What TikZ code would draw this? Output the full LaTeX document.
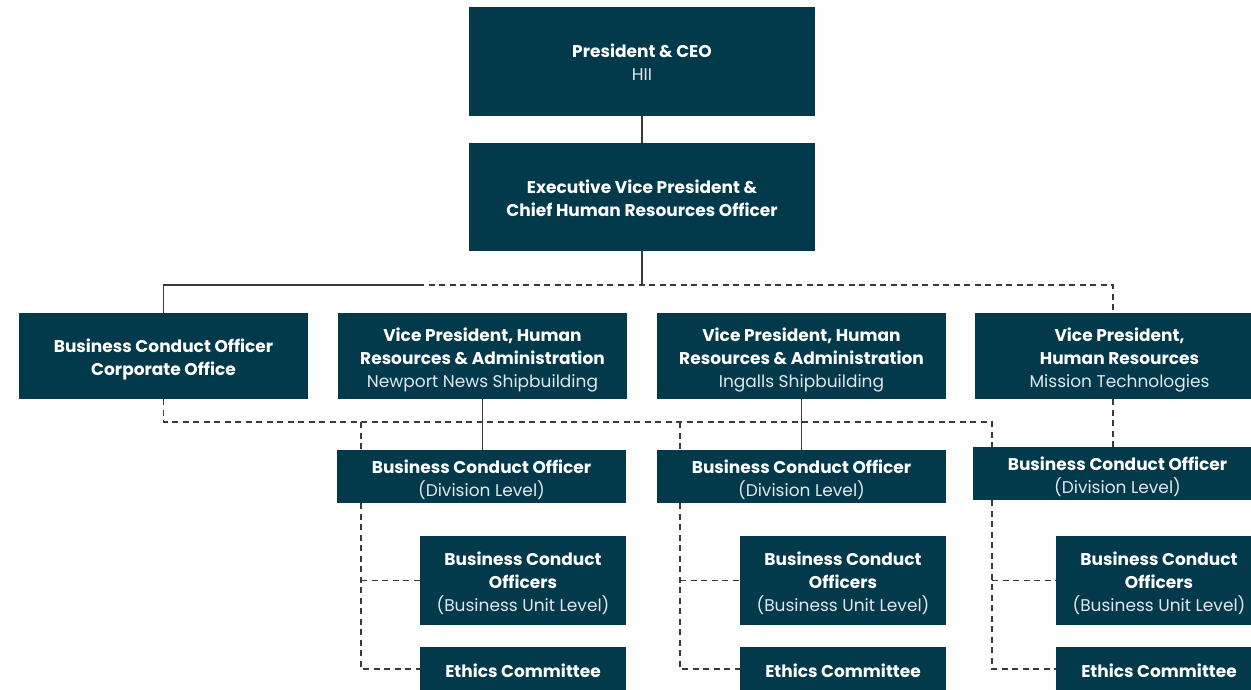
\documentclass[tikz,border=0pt]{standalone}
\usepackage{fontspec}
\setmainfont{Poppins}
\definecolor{boxc}{HTML}{023A4B}
\definecolor{linec}{HTML}{3A3A3A}
\definecolor{subc}{HTML}{E2E8EA}
\tikzset{
  orgbox/.style={fill=boxc, draw=none, inner sep=0pt},
  orgtext/.style={text=white, align=center, inner sep=0pt,
    font=\fontsize{17}{23}\selectfont\bfseries},
  solidline/.style={draw=linec, line width=1.4pt},
  dashline/.style={draw=linec, line width=1.4pt, dash pattern=on 6pt off 4.5pt},
}
\newcommand{\sub}[1]{{\mdseries\color{subc}#1}}
% name, x, y, width, height, text shift, text
\newcommand{\onode}[7]{%
  \node[orgbox, minimum width=#4pt, minimum height=#5pt] (#1) at (#2,#3) {};
  \node[orgtext] (#1-t) at ([yshift=-#6pt]#1.center) {#7};}
\begin{document}
\begin{tikzpicture}[x=1pt,y=-1pt]
\useasboundingbox (0,0) rectangle (1251,689);
% level 1 and 2
\onode{ceo}{642}{61.5}{346}{109}{1}{President \& CEO\\ \sub{HII}}
\onode{evp}{642}{197}{346}{108}{1}{Executive Vice President \&\\ Chief Human Resources Officer}
% level 3
\onode{bcoc}{163.5}{356}{289}{86}{3}{Business Conduct Officer\\ Corporate Office}
\onode{vpnn}{482.5}{356}{289}{86}{4}{Vice President, Human\\ Resources \& Administration\\ \sub{Newport News Shipbuilding}}
\onode{vpig}{801.5}{356}{289}{86}{4}{Vice President, Human\\ Resources \& Administration\\ \sub{Ingalls Shipbuilding}}
\onode{vpmt}{1119.5}{356}{289}{86}{4}{Vice President,\\ Human Resources\\ \sub{Mission Technologies}}
% division level
\onode{div1}{481.5}{476.5}{289}{53}{3}{Business Conduct Officer\\ \sub{(Division Level)}}
\onode{div2}{801.5}{476.5}{289}{53}{3}{Business Conduct Officer\\ \sub{(Division Level)}}
\onode{div3}{1117.5}{473.5}{289}{53}{3}{Business Conduct Officer\\ \sub{(Division Level)}}
% business unit level
\onode{bu1}{523}{580.5}{206}{89}{3}{Business Conduct\\ Officers\\ \sub{(Business Unit Level)}}
\onode{bu2}{843}{580.5}{206}{89}{3}{Business Conduct\\ Officers\\ \sub{(Business Unit Level)}}
\onode{bu3}{1159}{580.5}{206}{89}{3}{Business Conduct\\ Officers\\ \sub{(Business Unit Level)}}
% ethics
\onode{eth1}{523}{669}{206}{44}{2}{Ethics Committee}
\onode{eth2}{843}{669}{206}{44}{2}{Ethics Committee}
\onode{eth3}{1159}{669}{206}{44}{2}{Ethics Committee}
% junction coordinates
\coordinate (j0) at (642,285);
\coordinate (hs) at (418,285);
\coordinate (m) at (1113,285);
\coordinate (c1) at (361,422);
\coordinate (c2) at (680,422);
\coordinate (c3) at (992,422);
% connectors
\draw[solidline] (ceo.south) -- (evp.north);
\draw[solidline] (evp.south) -- (j0);
\draw[solidline] (bcoc.north) |- (hs);
\draw[dashline] (hs) -- (j0) -- (m) -- (m |- vpmt.north);
\draw[dashline] (bcoc.south) |- (c3) -- (c3 |- div3.north);
\draw[dashline] (c1) -- (c1 |- div1.north);
\draw[dashline] (c2) -- (c2 |- div2.north);
\draw[solidline] (vpnn.south) -- (vpnn.south |- div1.north);
\draw[solidline] (vpig.south) -- (vpig.south |- div2.north);
\draw[dashline] (m |- vpmt.south) -- (m |- div3.north);
\draw[dashline] (c1 |- div1.south) |- (eth1.west);
\draw[dashline] (c1 |- bu1.west) -- (bu1.west);
\draw[dashline] (c2 |- div2.south) |- (eth2.west);
\draw[dashline] (c2 |- bu2.west) -- (bu2.west);
\draw[dashline] (c3 |- div3.south) |- (eth3.west);
\draw[dashline] (c3 |- bu3.west) -- (bu3.west);
\end{tikzpicture}
\end{document}
